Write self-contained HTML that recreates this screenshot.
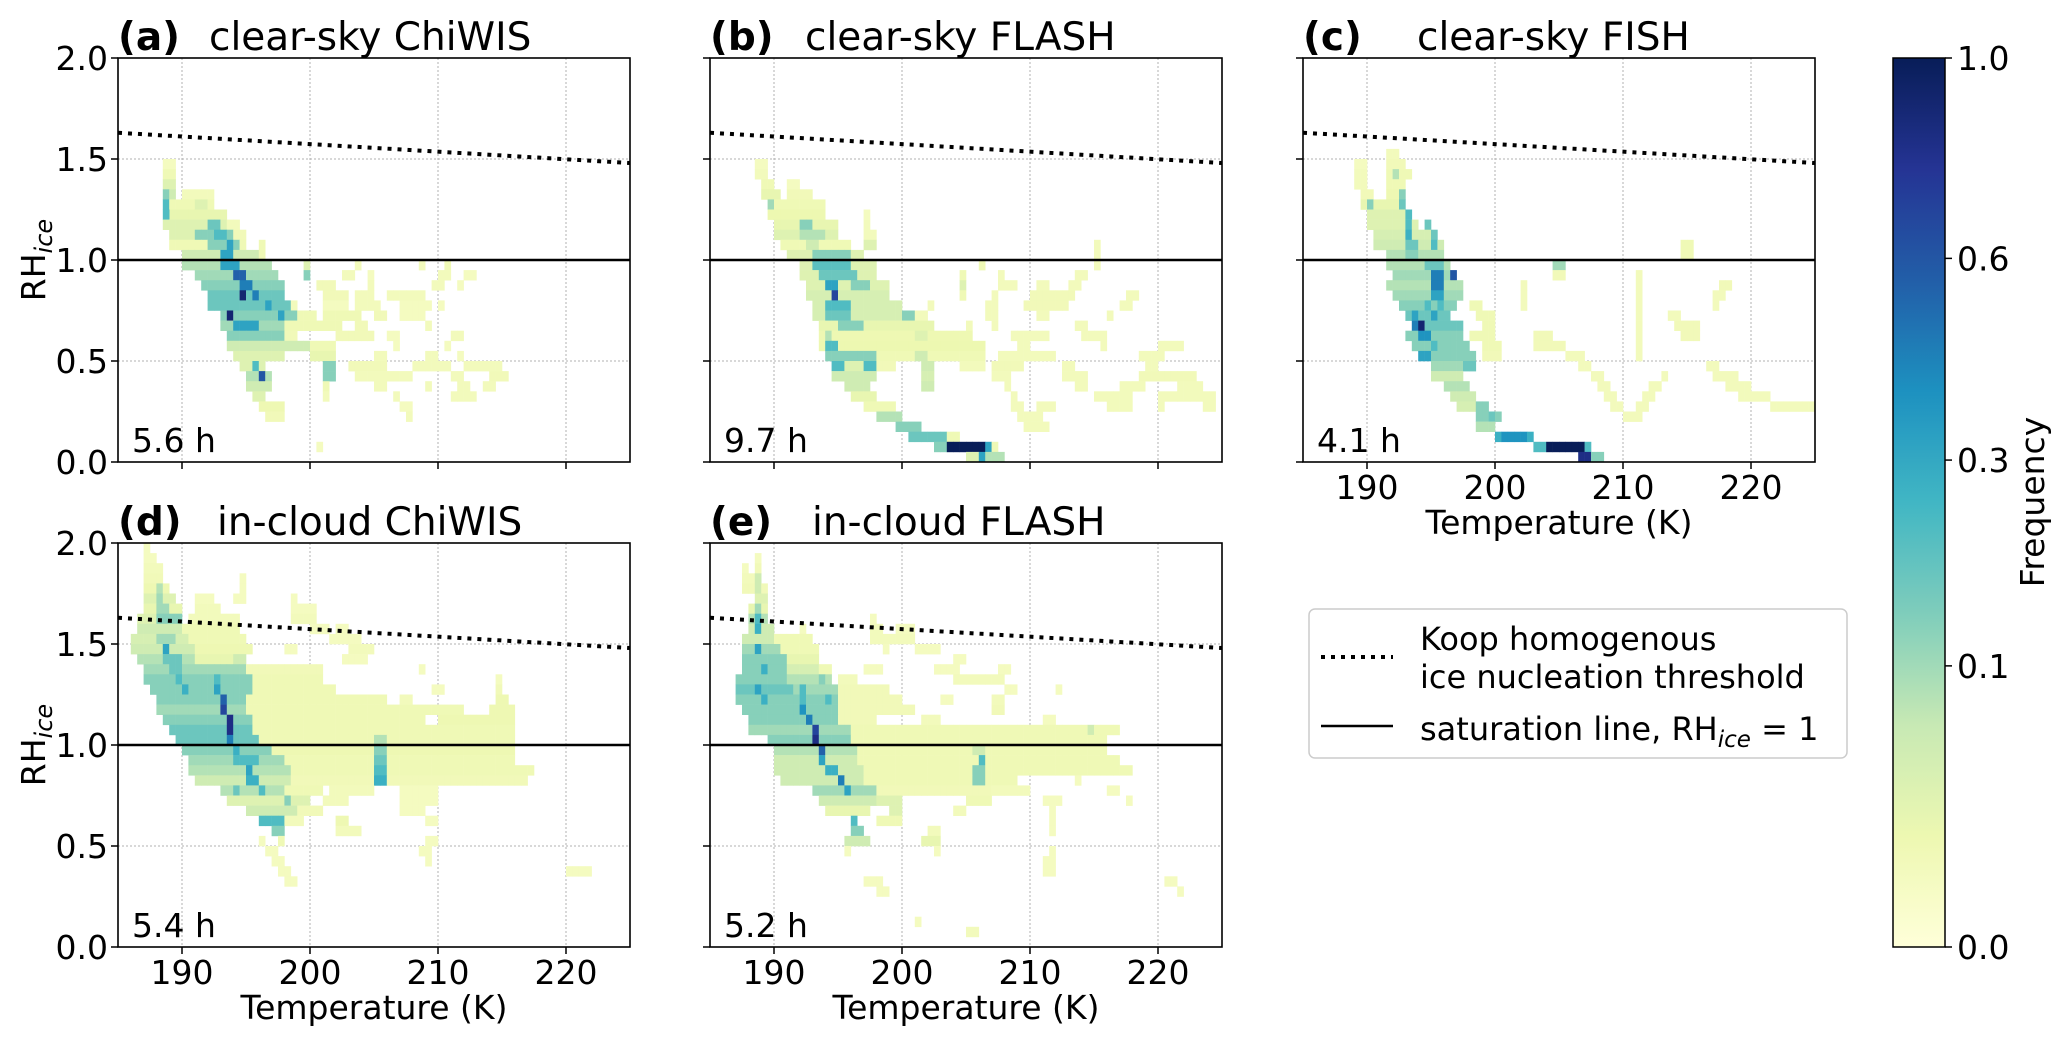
<!DOCTYPE html>
<html><head><meta charset="utf-8">
<style>
html,body{margin:0;padding:0;background:#fff;}
svg{display:block;font-family:"DejaVu Sans","Liberation Sans",sans-serif;}
</style></head>
<body>
<svg id="fig" width="2067" height="1047" viewBox="0 0 2067 1047" xmlns="http://www.w3.org/2000/svg">
<defs>
<linearGradient id="cbgrad" x1="0" y1="1" x2="0" y2="0"></linearGradient>
</defs>
<g id="panels"></g>
<g id="legend">
  <rect x="1309" y="609" width="538" height="149" rx="6" fill="#fff" stroke="#cccccc" stroke-width="1.5"/>
  <line x1="1321" y1="657" x2="1393" y2="657" stroke="#000" stroke-width="4" stroke-dasharray="4 6"/>
  <text x="1420" y="650" font-size="32">Koop homogenous</text>
  <text x="1420" y="688" font-size="32">ice nucleation threshold</text>
  <line x1="1321" y1="726" x2="1393" y2="726" stroke="#000" stroke-width="2.5"/>
  <text x="1420" y="740" font-size="32">saturation line, RH<tspan font-size="23" font-style="italic" dy="7">ice</tspan><tspan dy="-7"> = 1</tspan></text>
</g>
<g id="colorbar"></g>
</svg>
<script>
// ---------------- data ----------------
const koopT = [185, 225];
const koopRH = [1.63, 1.48];
const xTicks = [190, 200, 210, 220];
const yTicks = [0.0, 0.5, 1.0, 1.5, 2.0];
const cbTicks = [0.0, 0.1, 0.3, 0.6, 1.0];
const hoursA = "5.6 h", hoursB = "9.7 h", hoursC = "4.1 h", hoursD = "5.4 h", hoursE = "5.2 h";
// runs: [rhBinIndex (0.05 wide), Tstart, Tend, frequency]
const runsA = [
[29,188.5,189.5,.006],[28,188.5,189.5,.012],[27,188.5,189.5,.03],
[26,188.5,189.5,.05],[26,188.5,189,.13],[26,190,192.5,.008],
[25,188.5,192.5,.012],[25,188.5,189,.22],[25,191,192,.03],
[24,189,193.5,.02],[24,188.5,189,.22],
[23,188.5,193.5,.03],[23,192,193,.17],[23,193.5,194.5,.008],
[22,189,194,.03],[22,191,194,.13],[22,192.5,193.5,.22],[22,194,195,.01],
[21,189,194.5,.012],[21,192,194.5,.13],[21,193.5,194,.32],[21,194.5,195,.012],[21,196,196.5,.012],
[20,190,196,.05],[20,193,194,.32],[20,196,196.5,.012],
[19,190,197,.08],[19,193,194.5,.32],[19,199.5,200,.03],[19,203.5,204,.008],[19,208.5,209,.008],[19,210.5,211,.012],
[18,191,197.5,.1],[18,194,195,.55],[18,199.5,200,.13],[18,202.5,203.5,.008],[18,204.5,205,.006],[18,210,211,.008],[18,212,213,.006],
[17,191.5,198,.13],[17,194.5,195.5,.45],[17,200.5,202,.01],[17,204.5,205,.008],[17,209.5,210.5,.008],[17,211.5,212,.006],
[16,192,198,.17],[16,194.5,195,.9],[16,195.5,196,.45],[16,201,203,.01],[16,203.5,205,.008],[16,206,209,.008],
[15,192,198.5,.17],[15,196.5,197,.32],[15,198.5,199,.008],[15,201,203,.006],[15,203.5,205.5,.008],[15,207,209.5,.006],[15,210,210.5,.006],
[14,193,199,.13],[14,193.5,194,.9],[14,197.5,198,.32],[14,199,200.5,.012],[14,201,204,.012],[14,205,206,.01],[14,207,209,.006],
[13,193,198,.1],[13,194,196,.32],[13,198,202.5,.012],[13,203.5,204.5,.01],[13,209,209.5,.008],
[12,193.5,198,.13],[12,198,199,.01],[12,202,205,.01],[12,206,207,.006],[12,211,212,.008],
[11,193.5,200,.05],[11,200,202,.012],[11,206.5,207,.006],[11,210.5,211,.006],
[10,194,198,.03],[10,200,202,.02],[10,205,206,.008],[10,209,210,.008],[10,211.5,212,.006],
[9,194.5,196.5,.03],[9,195.5,196,.22],[9,201,202,.13],[9,203,206,.01],[9,208,211,.008],[9,212,215,.008],
[8,195,197,.08],[8,196,196.5,.6],[8,201,202,.13],[8,203.5,208,.008],[8,211,212,.008],[8,214,215.5,.01],
[7,195,197,.05],[7,201,201.5,.012],[7,205,206,.008],[7,209,209.5,.008],[7,211.5,212.5,.008],[7,213.5,214.5,.008],
[6,195.5,196.5,.03],[6,201,201.5,.008],[6,206.5,207,.008],[6,211,213,.008],
[5,196,198,.014],[5,207,208,.006],[4,196.5,198,.01],[4,207.5,208,.008],[1,200.5,201,.006]
];
const runsB = [
[29,188.5,189.5,.006],[28,188.5,189.5,.008],
[27,189,190,.012],[27,191,192,.006],
[26,189,190.5,.02],[26,191,193,.01],
[25,189.5,194,.012],[25,189.5,190,.1],
[24,189.5,194,.016],[24,197,197.5,.006],
[23,190,195,.02],[23,192,193,.13],[23,197,197.5,.008],
[22,190,195,.03],[22,192,194,.08],[22,197,198,.008],
[21,190.5,196,.012],[21,192.5,193.5,.05],[21,197,198,.03],[21,215,215.5,.008],
[20,191,197,.03],[20,193,196,.13],[20,215,215.5,.008],
[19,192,198,.03],[19,193,196,.2],[19,206,206.5,.012],[19,215,215.5,.008],
[18,192,198,.03],[18,193.5,196.5,.17],[18,204.5,205,.012],[18,207.5,208,.008],[18,213.5,214.5,.008],
[17,192.5,199,.03],[17,194,195,.32],[17,196,197.5,.13],[17,204.5,205,.03],[17,207.5,209,.008],[17,210.5,211.5,.008],[17,213,214,.008],
[16,192.5,199,.04],[16,194.5,195,.68],[16,204.5,205,.012],[16,207,207.5,.008],[16,210,213.5,.01],[16,217.5,218.5,.008],
[15,193,200,.04],[15,194,196,.22],[15,202,202.5,.008],[15,206.5,207.5,.008],[15,209.5,213,.01],[15,217,218,.008],
[14,193,201,.04],[14,194,196,.17],[14,200,201,.13],[14,201,202,.008],[14,206.5,207.5,.008],[14,210.5,211.5,.008],[14,216,216.5,.008],
[13,193.5,202.5,.02],[13,195,197,.13],[13,205,205.5,.008],[13,207,207.5,.008],[13,213.5,214.5,.008],
[12,193.5,205.5,.014],[12,194,194.5,.08],[12,201,202,.03],[12,208.5,211.5,.008],[12,214,216,.008],
[11,193.5,206.5,.016],[11,194,195,.22],[11,209,210,.008],[11,215.5,216,.008],[11,220,222,.008],
[10,194,198,.13],[10,198,206.5,.012],[10,201,202,.05],[10,207.5,212,.008],[10,218.5,220.5,.008],
[9,194.5,195.5,.22],[9,195.5,197,.03],[9,197,198,.22],[9,198,199.5,.01],[9,201.5,202.5,.05],[9,204.5,206.5,.008],[9,207,209.5,.01],[9,212.5,213.5,.008],[9,219,220,.008],
[8,194.5,198,.05],[8,201.5,202.5,.04],[8,207,208.5,.008],[8,212.5,214.5,.008],[8,218.5,223,.01],
[7,195.5,197.5,.05],[7,201.5,202.5,.05],[7,208,208.5,.008],[7,213.5,214.5,.008],[7,217,219,.008],[7,221.5,223.5,.008],
[6,196,198,.02],[6,208.5,209,.008],[6,215,218,.008],[6,220,224.5,.008],
[5,197,199.5,.012],[5,208.5,209.5,.008],[5,210.5,212,.008],[5,216,218,.008],[5,220,220.5,.008],[5,223.5,224.5,.008],
[4,198,200,.08],[4,209,211,.008],
[3,199.5,201.5,.13],[3,209.5,211.5,.008],
[2,200.5,203.5,.17],[2,203.5,204.5,.012],
[1,202.5,203.5,.13],[1,203.5,206.5,1.0],[1,206.5,207,.32],[1,207,207.5,.012],
[0,205,206,.03],[0,206,206.5,.32],[0,206.5,208,.08]
];
const runsC = [
[30,191.5,192.5,.008],[29,189,190,.006],[29,191.5,193,.01],
[28,189,190,.008],[28,191.5,193.5,.012],[28,192,192.5,.08],
[27,189,190,.008],[27,191.5,193,.012],
[26,189.5,190.5,.01],[26,191.5,193,.014],[26,192.5,193,.13],
[25,189.5,193,.02],[25,190,190.5,.13],[25,192.5,193,.17],
[24,190,193.5,.03],[24,193,193.5,.22],
[23,190,194,.03],[23,193,193.5,.22],[23,194.5,195,.17],
[22,190.5,195.5,.04],[22,193,193.5,.27],[22,195,195.5,.17],
[21,190.5,196,.05],[21,193,194,.17],[21,195,195.5,.22],[21,214.5,215.5,.012],
[20,191.5,196,.08],[20,193,194,.13],[20,214.5,215.5,.012],
[19,191.5,196.5,.08],[19,194.5,196,.17],[19,204.5,205.5,.1],
[18,192,197,.1],[18,195,196,.45],[18,196.5,197,.6],[18,204.5,205.5,.01],[18,211,211.5,.008],
[17,191.5,197.5,.08],[17,195,196,.45],[17,202,202.5,.008],[17,211,211.5,.008],[17,217.5,218.5,.01],
[16,192,197.5,.1],[16,195,196,.32],[16,202,202.5,.008],[16,211,211.5,.008],[16,217,218,.008],
[15,192.5,197,.13],[15,194.5,195,.22],[15,195.5,196,.22],[15,198,199,.012],[15,202,202.5,.008],[15,211,211.5,.008],[15,217,217.5,.008],
[14,193,196.5,.17],[14,193.5,194,.32],[14,195,195.5,.32],[14,198.5,200,.012],[14,211,211.5,.008],[14,213.5,214.5,.008],
[13,193.5,197.5,.17],[13,193.5,194.5,.45],[13,194,194.5,.9],[13,199,200,.012],[13,211,211.5,.008],[13,214,216,.01],
[12,193,197.5,.13],[12,194,195,.38],[12,198,200,.012],[12,203,204.5,.01],[12,211,211.5,.008],[12,214.5,216,.01],
[11,193.5,198,.13],[11,195,195.5,.22],[11,199,200.5,.012],[11,203,205.5,.01],[11,211,211.5,.008],
[10,194,198.5,.13],[10,194,195,.32],[10,197.5,198.5,.13],[10,199,200.5,.01],[10,205.5,207,.008],[10,211,211.5,.008],
[9,195,198.5,.1],[9,197.5,198.5,.17],[9,206.5,207.5,.008],[9,216.5,217.5,.008],
[8,195,197.5,.05],[8,207.5,208.5,.008],[8,213,213.5,.008],[8,217,219,.008],
[7,196,198,.08],[7,208,209,.008],[7,212,213,.008],[7,218,220,.008],
[6,196.5,198.5,.05],[6,208.5,209.5,.008],[6,211.5,212.5,.008],[6,219,221.5,.008],
[5,197,199.5,.04],[5,198.5,199.5,.13],[5,209,210,.008],[5,211,212,.008],[5,221.5,225,.008],
[4,198.5,200.5,.13],[4,199.5,200,.17],[4,210,211.5,.008],
[3,198.5,200,.08],
[2,200,203,.27],[2,200.5,202.5,.38],
[1,203,207.5,.22],[1,204,207,1.0],
[0,206.5,208.5,.13],[0,206.5,207.5,.82]
];
const runsD = [
[39,187,187.5,.006],[38,187,188,.006],[37,187,188.5,.008],
[36,187,188.5,.01],[36,194.5,195,.006],
[35,187,189,.014],[35,188,188.5,.08],[35,194.5,195,.006],
[34,187,189.5,.03],[34,188,188.5,.1],[34,191,192.5,.006],[34,194,195,.006],[34,198.5,199,.006],
[33,187,190,.02],[33,188,189,.1],[33,191,193,.008],[33,198.5,200.5,.006],
[32,186.5,190,.03],[32,188,190,.13],[32,190.5,194.5,.008],[32,198.5,200.5,.008],
[31,186.5,190,.05],[31,190,194.5,.012],[31,200,201.5,.006],[31,202,203,.006],
[30,186,190.5,.04],[30,188,189.5,.1],[30,190.5,195,.012],[30,201.5,203,.006],[30,203,204,.006],
[29,186,191,.05],[29,188.5,189,.32],[29,191,195.5,.014],[29,198,199,.006],[29,203,205,.008],
[28,186.5,191,.08],[28,188.5,190,.17],[28,191,194,.02],[28,194,195,.05],[28,202.5,204.5,.006],
[27,187,195,.1],[27,189,190,.17],[27,195,201,.01],[27,208.5,209,.006],
[26,187,195.5,.13],[26,189.5,190,.22],[26,192.5,193,.22],[26,195.5,201,.012],[26,214.5,215,.006],
[25,187.5,195.5,.13],[25,190,190.5,.27],[25,192.5,193,.32],[25,195.5,202,.012],[25,209.5,210.5,.006],[25,214.5,215,.01],
[24,188,195,.13],[24,193,193.5,.55],[24,195,206,.012],[24,207,208,.008],[24,214.5,215.5,.014],
[23,188,195,.1],[23,193,193.5,.68],[23,195,212,.012],[23,214,216,.014],
[22,188.5,195.5,.13],[22,193.5,194,.82],[22,195.5,209,.012],[22,210,216,.014],
[21,189,195.5,.17],[21,193.5,194,.82],[21,195.5,216,.012],
[20,189.5,196,.17],[20,193.5,194,.45],[20,196,216,.012],[20,205,206,.08],
[19,190,197,.13],[19,194,194.5,.27],[19,197,216,.014],[19,205,206,.13],
[18,190.5,198,.1],[18,194,196,.22],[18,198,216,.012],[18,205,206,.17],
[17,190.5,198.5,.08],[17,195,195.5,.32],[17,198.5,217.5,.012],[17,205,206,.22],
[16,191,198.5,.05],[16,195,196,.27],[16,198.5,217,.01],[16,205,206,.27],
[15,193,198,.08],[15,194,194.5,.17],[15,196,196.5,.22],[15,198,201,.012],[15,201.5,205,.008],[15,207,210,.006],
[14,193.5,200,.03],[14,198,198.5,.13],[14,201,203,.008],[14,207,210,.006],
[13,195,199,.05],[13,199,201,.01],[13,207,209,.006],
[12,196,198,.22],[12,198,199.5,.008],[12,202,203,.014],[12,209,210,.006],
[11,197,198,.13],[11,202,204,.008],
[10,196,196.5,.006],[10,197.5,198,.012],[10,209,210,.006],
[9,196.5,197.5,.006],[9,208.5,209.5,.006],
[8,197,198,.006],[8,209,209.5,.006],
[7,197.5,198.5,.006],[7,220,222,.006],
[6,198,199,.006]
];
const runsE = [
[38,188.5,189,.006],[37,187.5,188,.006],[37,188.5,189,.01],
[36,187.5,189,.008],[36,188.5,189,.05],
[35,187.5,189.5,.01],[35,188.5,189,.05],
[34,188.5,189.5,.03],
[33,188,189.5,.02],[33,188.5,189,.1],
[32,188,189.5,.08],[32,188.5,189,.22],[32,197.5,198,.006],
[31,188,190,.05],[31,188.5,189,.27],[31,192,192.5,.006],[31,197.5,198.5,.008],[31,199.5,201,.006],
[30,187.5,190,.05],[30,190,193,.012],[30,197.5,201,.008],
[29,187.5,190.5,.1],[29,188.5,189,.32],[29,190.5,193.5,.012],[29,198.5,199,.006],[29,201,203,.006],
[28,187.5,191,.13],[28,191,193.5,.02],[28,204,205,.006],
[27,187.5,191,.13],[27,189,189.5,.27],[27,191,193.5,.04],[27,193.5,194.5,.012],[27,197,198.5,.006],[27,202.5,204.5,.006],[27,207.5,208.5,.006],
[26,187,191,.13],[26,191,194.5,.08],[26,193.5,194,.13],[26,195,196.5,.008],[26,204,208,.008],
[25,187,191.5,.17],[25,188.5,189,.32],[25,191.5,195,.1],[25,192,192.5,.22],[25,195,199,.01],[25,208,209,.006],[25,212,212.5,.006],
[24,187,195,.13],[24,189,189.5,.27],[24,192,192.5,.22],[24,194,194.5,.22],[24,195,200,.01],[24,203,204,.006],[24,207,208,.008],
[23,187.5,195,.13],[23,192,192.5,.38],[23,195,201,.01],[23,207,208,.01],
[22,188,195,.13],[22,192.5,193,.45],[22,195,198,.01],[22,201.5,203,.008],[22,211,212,.006],
[21,188,196,.1],[21,193,193.5,.68],[21,196,217,.012],[21,214.5,215,.05],
[20,189.5,196,.13],[20,193,193.5,.82],[20,196,216,.012],
[19,190,196.5,.08],[19,193.5,194,.55],[19,196.5,216,.012],[19,205.5,206.5,.05],
[18,190,196.5,.05],[18,193.5,194,.32],[18,196.5,217,.012],[18,206,206.5,.22],
[17,190,197,.05],[17,194,195,.27],[17,197,218,.012],[17,205.5,206.5,.13],
[16,190.5,197,.05],[16,195,195.5,.45],[16,197,209,.012],[16,205.5,206.5,.13],[16,213.5,214,.006],
[15,193,198,.1],[15,195.5,196,.32],[15,198,207,.01],[15,207,210,.008],[15,216,217,.006],
[14,193.5,198,.05],[14,198,200,.03],[14,205,207,.012],[14,211,212.5,.006],[14,217.5,218,.006],
[13,194,197.5,.02],[13,199,200,.03],[13,204,205,.008],[13,211.5,212,.006],
[12,196,196.5,.22],[12,198,200,.012],[12,211.5,212,.006],
[11,196,197,.13],[11,202,203,.008],[11,211.5,212,.006],
[10,195.5,197.5,.05],[10,201.5,203,.02],
[9,195.5,196,.006],[9,202.5,203,.006],[9,211.5,212,.006],
[8,211,212,.006],[7,211,212,.006],
[6,197,198.5,.006],[6,220.5,221.5,.006],
[5,198,199,.006],[5,221.5,222,.006],
[2,201,201.5,.006],[1,205,206,.008]
];
// ---------------- layout ----------------
const NS = "http://www.w3.org/2000/svg";
const svg = document.getElementById('fig');
const panelsG = document.getElementById('panels');
const ylgnbu = ["#ffffd9","#edf8b1","#c7e9b4","#7fcdbb","#41b6c4","#1d91c0","#225ea8","#253494","#081d58"];
function hex(h){return [parseInt(h.slice(1,3),16),parseInt(h.slice(3,5),16),parseInt(h.slice(5,7),16)];}
function cmap(v){
  let p = Math.sqrt(Math.max(0,Math.min(1,v)));
  let f = p*(ylgnbu.length-1); let i = Math.min(Math.floor(f), ylgnbu.length-2); let t = f-i;
  let a = hex(ylgnbu[i]), b = hex(ylgnbu[i+1]);
  return 'rgb('+a.map((c,k)=>Math.round(c+(b[k]-c)*t)).join(',')+')';
}
function mk(tag, attrs, parent){
  const e = document.createElementNS(NS, tag);
  for (const k in attrs) e.setAttribute(k, attrs[k]);
  if (parent) parent.appendChild(e);
  return e;
}
const panels = [
  {id:'a', x0:118, y0:58, label:'(a)', title:'clear-sky ChiWIS', tx:209, runs:runsA, hours:hoursA, ylab:true, xlab:false},
  {id:'b', x0:710, y0:58, label:'(b)', title:'clear-sky FLASH', tx:805, runs:runsB, hours:hoursB, ylab:false, xlab:false},
  {id:'c', x0:1303, y0:58, label:'(c)', title:'clear-sky FISH', tx:1417, runs:runsC, hours:hoursC, ylab:false, xlab:true},
  {id:'d', x0:118, y0:543, label:'(d)', title:'in-cloud ChiWIS', tx:217, runs:runsD, hours:hoursD, ylab:true, xlab:true},
  {id:'e', x0:710, y0:543, label:'(e)', title:'in-cloud FLASH', tx:812, runs:runsE, hours:hoursE, ylab:false, xlab:true}
];
const W = 512, H = 404, TMIN = 185, TMAX = 225, RMIN = 0, RMAX = 2;
panels.forEach(p => {
  const g = mk('g', {}, panelsG);
  
  
  const X = t => p.x0 + (t - TMIN) / (TMAX - TMIN) * W;
  const Y = r => p.y0 + H - (r - RMIN) / (RMAX - RMIN) * H;
  xTicks.forEach(t => {
    const l = mk('line', {x1:X(t), x2:X(t), y1:p.y0, y2:p.y0+H, stroke:'#b0b0b0', 'stroke-width':1, 'stroke-dasharray':'2 2'}, g);
    
    
  });
  [0.5,1.0,1.5].forEach(r => {
    const l = mk('line', {x1:p.x0, x2:p.x0+W, y1:Y(r), y2:Y(r), stroke:'#b0b0b0', 'stroke-width':1, 'stroke-dasharray':'2 2'}, g);
    
    
  });
  const cells = new Map();
  p.runs.forEach(r => {
    const [i, t0, t1, v] = r;
    for (let t = t0; t < t1 - 1e-6; t += 0.5) cells.set(i + '_' + t, [i, t, v]);
  });
  const hg = mk('g', {}, g);
  
  
  cells.forEach(c => {
    const [i, t, v] = c;
    const x1 = X(t), x2 = X(t + 0.5), y1 = Y((i + 1) * 0.05), y2 = Y(i * 0.05);
    const rc = mk('rect', {x:x1, y:y1, width:x2-x1+0.3, height:y2-y1+0.3, fill:cmap(v)}, hg);
    
    
  });
  const kl = mk('line', {x1:X(koopT[0]), y1:Y(koopRH[0]), x2:X(koopT[1]), y2:Y(koopRH[1]), stroke:'#000', 'stroke-width':4, 'stroke-dasharray':'4 6'}, g);
  
  
  const sl = mk('line', {x1:p.x0, y1:Y(1), x2:p.x0+W, y2:Y(1), stroke:'#000', 'stroke-width':2.5}, g);
  
  
  const fr = mk('rect', {x:p.x0, y:p.y0, width:W, height:H, fill:'none', stroke:'#000', 'stroke-width':1.6}, g);
  
  
  xTicks.forEach(t => {
    const l = mk('line', {x1:X(t), x2:X(t), y1:p.y0+H, y2:p.y0+H+7, stroke:'#000', 'stroke-width':1.5}, g);
    
    
    if (p.xlab) {
      const tx = mk('text', {x:X(t), y:p.y0+H+37, 'font-size':33, 'text-anchor':'middle'}, g);
      tx.textContent = t;
      
      
    }
  });
  yTicks.forEach(r => {
    const l = mk('line', {x1:p.x0-7, x2:p.x0, y1:Y(r), y2:Y(r), stroke:'#000', 'stroke-width':1.5}, g);
    
    
    if (p.ylab) {
      const tx = mk('text', {x:p.x0-10, y:Y(r)+12, 'font-size':33, 'text-anchor':'end'}, g);
      tx.textContent = r.toFixed(1);
      
      
    }
  });
  if (p.xlab) {
    const tx = mk('text', {x:p.x0+W/2, y:p.y0+H+72, 'font-size':33, 'text-anchor':'middle'}, g);
    tx.textContent = 'Temperature (K)';
    
    
  }
  if (p.ylab) {
    const cy = p.y0 + H/2;
    const tx = mk('text', {x:45, y:cy, 'font-size':33, 'text-anchor':'middle', transform:'rotate(-90 45 '+cy+')'}, g);
    tx.innerHTML = 'RH<tspan font-size="24" font-style="italic" dy="7">ice</tspan>';
    
    
  }
  const lb = mk('text', {x:p.x0, y:p.y0-8, 'font-size':39, 'font-weight':'bold'}, g);
  lb.textContent = p.label;
  
  
  const tt = mk('text', {x:p.tx, y:p.y0-8, 'font-size':39}, g);
  tt.textContent = p.title;
  
  
  const hr = mk('text', {x:p.x0+14, y:p.y0+H-10, 'font-size':33}, g);
  hr.textContent = p.hours;
  
  
});
// ---------------- colorbar ----------------
const cb = document.getElementById('colorbar');
const grad = document.getElementById('cbgrad');
for (let k = 0; k <= 40; k++) {
  const pos = k / 40;
  mk('stop', {offset: pos, 'stop-color': cmap(pos * pos)}, grad);
}
const CBX = 1893, CBW = 52, CBY = 58, CBH = 889;
const cbr = mk('rect', {x:CBX, y:CBY, width:CBW, height:CBH, fill:'url(#cbgrad)', stroke:'#000', 'stroke-width':1.5}, cb);


cbTicks.forEach(v => {
  const y = CBY + CBH - Math.sqrt(v) * CBH;
  const l = mk('line', {x1:CBX+CBW, x2:CBX+CBW+7, y1:y, y2:y, stroke:'#000', 'stroke-width':1.5}, cb);
  
  
  const tx = mk('text', {x:CBX+CBW+12, y:y+12, 'font-size':33}, cb);
  tx.textContent = v.toFixed(1);
  
  
});
const cbt = mk('text', {x:2044, y:502, 'font-size':33, 'text-anchor':'middle', transform:'rotate(-90 2044 502)'}, cb);
cbt.textContent = 'Frequency';


</script>
</body></html>
